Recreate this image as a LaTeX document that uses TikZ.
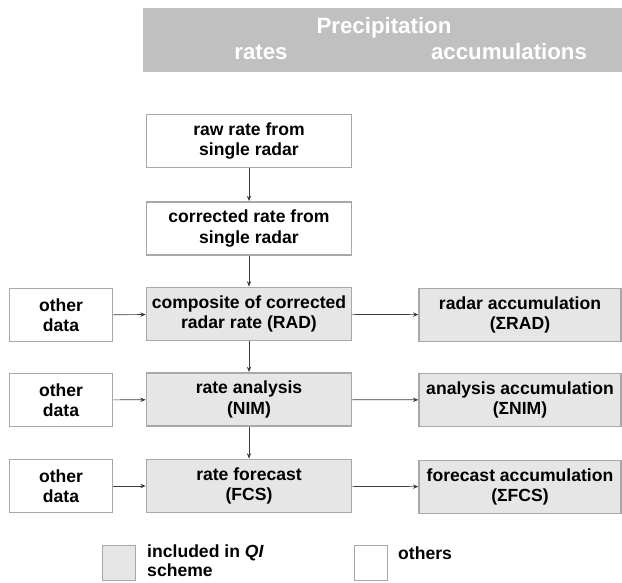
\documentclass[tikz,border=0pt]{standalone}
\usepackage{fontspec}
\setmainfont{Liberation Sans}
\usetikzlibrary{arrows.meta}
\definecolor{boxline}{HTML}{A8A8A8}
\definecolor{qifill}{HTML}{E6E6E6}
\definecolor{headfill}{HTML}{C0C0C0}
\definecolor{arrowcol}{HTML}{3C3C3C}

\begin{document}
\begin{tikzpicture}[
    x=0.03cm, y=-0.03cm,
    box/.style={rectangle, draw=boxline, line width=1.4pt, fill=white, minimum height=1.6cm, minimum width=#1, align=center, inner sep=1pt, font=\fontsize{15}{17.5}\selectfont\bfseries},
    box/.default=6.15cm,
    qibox/.style={box=#1, fill=qifill},
    qibox/.default=6.15cm,
    headtext/.style={text=white, font=\fontsize{19}{22}\selectfont\bfseries, anchor=base, inner sep=0pt},
    legtext/.style={anchor=west, align=left, inner sep=0pt, font=\fontsize{15}{16.5}\selectfont\bfseries},
    arr/.style={-{Stealth[length=1.6mm, width=1.3mm]}, draw=arrowcol, line width=0.6pt}
]
\useasboundingbox (0,0) rectangle (622,582);

% Header band
\node[fill=headfill, minimum width=14.37cm, minimum height=1.92cm, inner sep=0pt] (head) at (382.5,40) {};
\node[headtext] (prec) at (384,33) {Precipitation};
\node[headtext] (rates) at (261,59) {rates};
\node[headtext] (accum) at (509,59) {accumulations};

% Central column: rates
\node[box] (raw) at (249,141) {raw rate from\\single radar};
\node[box] (corr) at (249,228.5) {corrected rate from\\single radar};
\node[qibox] (rad) at (249,314) {composite of corrected\\radar rate (RAD)};
\node[qibox] (nim) at (249,399.5) {rate analysis\\(NIM)};
\node[qibox] (fcs) at (249,486) {rate forecast\\(FCS)};

% Left column: other data
\node[box=3.1cm] (othA) at (61,315) {other\\data};
\node[box=3.1cm] (othB) at (61,400) {other\\data};
\node[box=3.1cm] (othC) at (61,486) {other\\data};

% Right column: accumulations
\node[qibox=6.05cm] (accrad) at (520,315) {radar accumulation\\(ΣRAD)};
\node[qibox=6.05cm] (accnim) at (520,400) {analysis accumulation\\(ΣNIM)};
\node[qibox=6.05cm] (accfcs) at (520,487) {forecast accumulation\\(ΣFCS)};

% -- Arrows --
\draw[arr] (raw) -- (corr);
\draw[arr] (corr) -- (rad);
\draw[arr] (rad) -- (nim);
\draw[arr] (nim) -- (fcs);
\draw[arr] (othA) -- (rad);
\draw[arr] (othB) -- (nim);
\draw[arr] (othC) -- (fcs);
\draw[arr] (rad) -- (accrad);
\draw[arr] (nim) -- (accnim);
\draw[arr] (fcs) -- (accfcs);

% Legend
\node[qibox=1.0cm, minimum height=1.05cm] (legqi) at (119,563) {};
\node[legtext] (legqitext) at (147,561) {included in \textit{QI}\\scheme};
\node[box=1.0cm, minimum height=1.05cm] (legoth) at (371,563) {};
\node[legtext] (legothtext) at (398,553) {others};

\end{tikzpicture}
\end{document}
